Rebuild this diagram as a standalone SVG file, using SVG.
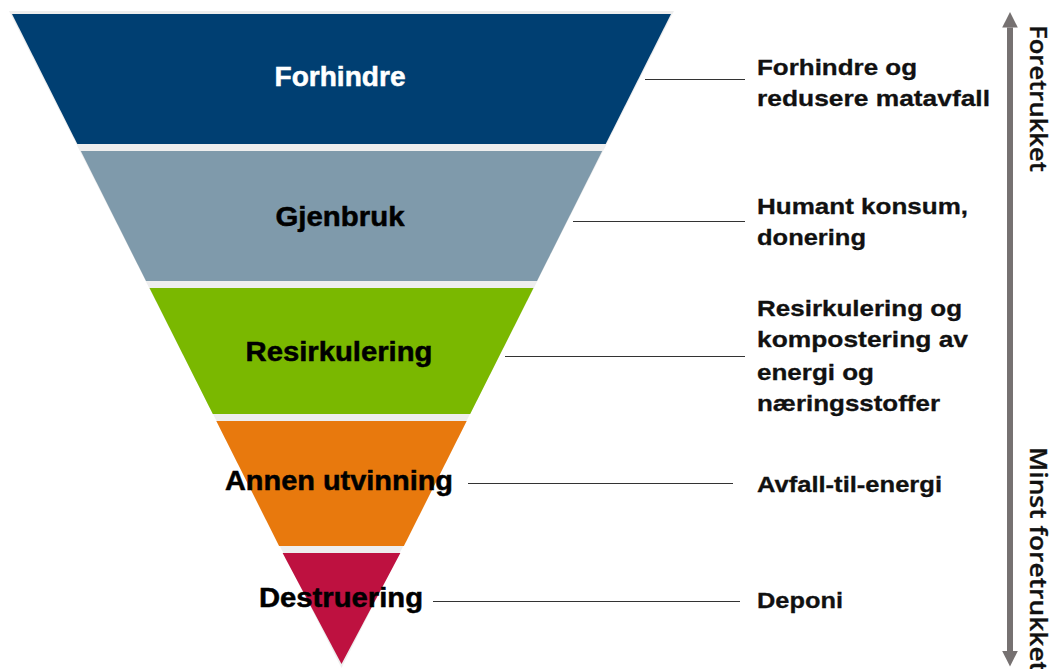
<svg xmlns="http://www.w3.org/2000/svg" width="1059" height="669" viewBox="0 0 1059 669">
  <defs>
    <style>
      .band-label { font-family: "Liberation Sans", Arial, sans-serif; font-weight: bold; font-size: 27px; text-anchor: middle; stroke-width: 0.5; }
      .side-label { font-family: "Liberation Sans", Arial, sans-serif; font-weight: bold; font-size: 22px; fill: #111111; stroke: #111111; stroke-width: 0.3; }
      .axis-label { font-family: "Open Sans", "Noto Sans", sans-serif; font-weight: 600; font-size: 23px; fill: #111111; stroke: #111111; stroke-width: 0.3; }
      .leader { stroke: #333333; stroke-width: 1; fill: none; }
    </style>
    <marker id="axis-head" viewBox="0 0 10 10" refX="0" refY="5" markerWidth="2.6" markerHeight="3.4" orient="auto-start-reverse" markerUnits="strokeWidth">
      <path d="M0,0 L10,5 L0,10 Z" fill="#767171"/>
    </marker>
  </defs>

  <!-- pale backing behind the inverted pyramid, visible in the gaps -->
  <polygon points="9,11 674,11 341.5,668" fill="#eeeeee"/>

  <g id="forhindre">
    <polygon points="12,14 671,14 605.7,144 77.3,144" fill="#003F72"/>
    <text class="band-label" x="340" y="86" fill="#ffffff" stroke="#ffffff" textLength="131" lengthAdjust="spacingAndGlyphs">Forhindre</text>
  </g>

  <g id="gjenbruk">
    <polygon points="80.8,151 602.2,151 537,281 146,281" fill="#7F9AAB"/>
    <text class="band-label" x="340" y="226" fill="#000000" stroke="#000000" textLength="129" lengthAdjust="spacingAndGlyphs">Gjenbruk</text>
  </g>

  <g id="resirkulering">
    <polygon points="149.5,288 533.5,288 470.2,414 212.8,414" fill="#7AB800"/>
    <text class="band-label" x="339" y="361" fill="#000000" stroke="#000000" textLength="187" lengthAdjust="spacingAndGlyphs">Resirkulering</text>
  </g>

  <g id="annen-utvinning">
    <polygon points="216.3,421 466.7,421 403.9,546 279.1,546" fill="#E8790D"/>
    <text class="band-label" x="339" y="490" fill="#000000" stroke="#000000" textLength="228" lengthAdjust="spacingAndGlyphs">Annen utvinning</text>
  </g>

  <g id="destruering">
    <polygon points="282.6,553 400.4,553 341.5,664" fill="#BE1140"/>
    <text class="band-label" x="341" y="607" fill="#000000" stroke="#000000" textLength="164" lengthAdjust="spacingAndGlyphs">Destruering</text>
  </g>

  <g id="connectors">
    <line class="leader" x1="645" y1="79.5" x2="745" y2="79.5"/>
    <line class="leader" x1="573" y1="221.5" x2="745" y2="221.5"/>
    <line class="leader" x1="505" y1="356.5" x2="745" y2="356.5"/>
    <line class="leader" x1="468" y1="483.5" x2="733" y2="483.5"/>
    <line class="leader" x1="433" y1="601.5" x2="740" y2="601.5"/>
  </g>

  <g id="label-forhindre">
    <text class="side-label" x="757" y="75" textLength="160" lengthAdjust="spacingAndGlyphs">Forhindre og</text>
    <text class="side-label" x="757" y="106" textLength="233" lengthAdjust="spacingAndGlyphs">redusere matavfall</text>
  </g>
  <g id="label-gjenbruk">
    <text class="side-label" x="757" y="214" textLength="211" lengthAdjust="spacingAndGlyphs">Humant konsum,</text>
    <text class="side-label" x="757" y="245" textLength="109" lengthAdjust="spacingAndGlyphs">donering</text>
  </g>
  <g id="label-resirkulering">
    <text class="side-label" x="757" y="316" textLength="205" lengthAdjust="spacingAndGlyphs">Resirkulering og</text>
    <text class="side-label" x="757" y="347" textLength="211" lengthAdjust="spacingAndGlyphs">kompostering av</text>
    <text class="side-label" x="757" y="380" textLength="117" lengthAdjust="spacingAndGlyphs">energi og</text>
    <text class="side-label" x="757" y="411" textLength="183" lengthAdjust="spacingAndGlyphs">næringsstoffer</text>
  </g>
  <g id="label-annen">
    <text class="side-label" x="757" y="492" textLength="185" lengthAdjust="spacingAndGlyphs">Avfall-til-energi</text>
  </g>
  <g id="label-destruering">
    <text class="side-label" x="757" y="608" textLength="86" lengthAdjust="spacingAndGlyphs">Deponi</text>
  </g>

  <g id="preference-axis">
    <line x1="1010" y1="27.6" x2="1010" y2="651" stroke="#767171" stroke-width="6" marker-start="url(#axis-head)" marker-end="url(#axis-head)"/>
    <text class="axis-label" transform="translate(1030,25) rotate(90)" textLength="147" lengthAdjust="spacingAndGlyphs">Foretrukket</text>
    <text class="axis-label" transform="translate(1030,447) rotate(90)" textLength="225" lengthAdjust="spacingAndGlyphs">Minst foretrukket</text>
  </g>
</svg>
